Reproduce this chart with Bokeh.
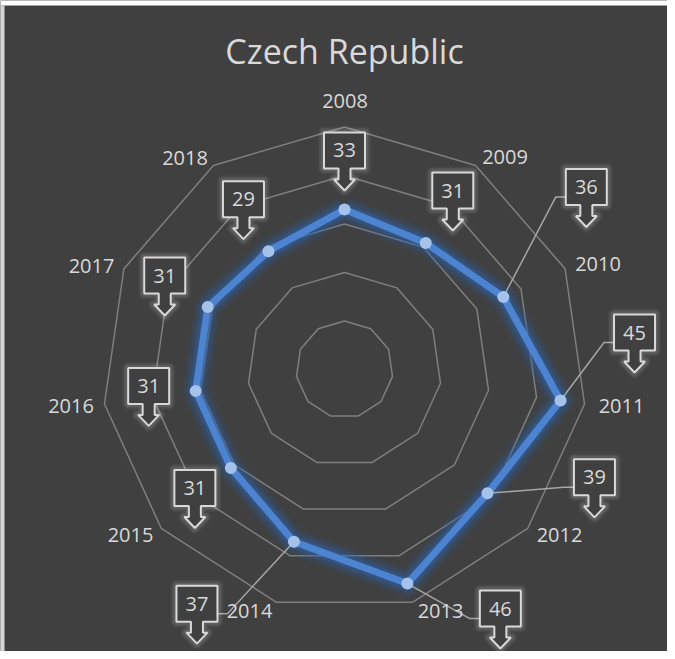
import math
from bokeh.plotting import figure
from bokeh.models import Range1d, ColumnDataSource
from bokeh.core.properties import value
from bokeh.embed import file_html
from bokeh.resources import INLINE

# ---------------- data ----------------
chart_title = "Czech Republic"
years = ["2008", "2009", "2010", "2011", "2012", "2013", "2014", "2015", "2016", "2017", "2018"]
values = [33, 31, 36, 45, 39, 46, 37, 31, 31, 31, 29]
ring_levels = [10, 20, 30, 40, 50]

# ---------------- layout (pixels of the reference picture) ----------------
CX, CY, S = 344.0, 369.0, 4.85          # radar centre and px per value unit
PAGE_L, PAGE_T, W, H = 0, 0, 667, 651
# callout arrow-tip offset from its data point (px, y down)
tip_offsets = [(0, -19), (27, -12.5), (83, -70), (74, -28), (107, 24), (93, 65),
               (-97, 102), (-36, 60), (-47, 35), (-43, 8.5), (-25, -12)]
# leader line side per label: None, "R" (box right of point), "L" (box left of point)
leader_side = [None, None, "R", "R", "R", "R", "L", None, None, None, None]
# category label centres (px)
cat_label_xy = [(344.5, 100.5), (504.5, 156.5), (597.5, 263.5), (621, 405), (559, 534),
                (440, 610), (249, 610), (130, 534), (70.5, 405), (91, 265), (184.5, 157)]

GRID = "#7f7f7f"
TXT = "#d9d9d9"
BG = "#404040"
BLUE = "#4d84d1"
FONT = "Open Sans"


def X(px):
    return (px - CX) / S


def Y(py):
    return (CY - py) / S


n = len(years)
angles = [math.pi / 2 - 2 * math.pi * k / n for k in range(n)]

p = figure(width=W, height=H, output_backend="svg", toolbar_location=None,
           x_range=Range1d(X(PAGE_L), X(PAGE_L + W)),
           y_range=Range1d(Y(PAGE_T + H), Y(PAGE_T)),
           min_border=0, background_fill_color=BG, border_fill_color=BG,
           outline_line_color=None)
p.axis.visible = False
p.grid.visible = False

# page edges visible in the reference (white top strip, light left strip)
p.quad(left=[X(0)], right=[X(W)], top=[Y(0)], bottom=[Y(5)], fill_color="white", line_color=None)
p.quad(left=[X(0)], right=[X(4)], top=[Y(5)], bottom=[Y(H)], fill_color="#d4d4d4", line_color=None)

# rings
ring_xs, ring_ys = [], []
for lv in ring_levels:
    xs = [lv * math.cos(a) for a in angles] + [lv * math.cos(angles[0])]
    ys = [lv * math.sin(a) for a in angles] + [lv * math.sin(angles[0])]
    ring_xs.append(xs)
    ring_ys.append(ys)
p.multi_line(ring_xs, ring_ys, line_color=GRID, line_width=1.5)

# data points
pts_x = [v * math.cos(a) for v, a in zip(values, angles)]
pts_y = [v * math.sin(a) for v, a in zip(values, angles)]
loop_x = pts_x + [pts_x[0]]
loop_y = pts_y + [pts_y[0]]

# glow of the series
for w, al in [(28, 0.08), (23, 0.12), (18, 0.18), (13, 0.3)]:
    p.line(loop_x, loop_y, line_color="#2a62b0", line_width=w, line_alpha=al, line_join="round")

# leader lines
lead_xs, lead_ys = [], []
tips = []
for i in range(n):
    ppx = CX + pts_x[i] * S
    ppy = CY - pts_y[i] * S
    tx, ty = ppx + tip_offsets[i][0], ppy + tip_offsets[i][1]
    tips.append((tx, ty))
    side = leader_side[i]
    if side:
        ly = ty - 30
        if side == "R":
            ex = tx - 20.5
            hx = ex - 10
        else:
            ex = tx + 20.5
            hx = ex + 10
        lead_xs.append([X(ex), X(hx), X(ppx)])
        lead_ys.append([Y(ly), Y(ly), Y(ppy)])
p.multi_line(lead_xs, lead_ys, line_color="#a6a6a6", line_width=1.5)

# series line and markers
p.line(loop_x, loop_y, line_color=BLUE, line_width=7, line_join="round")
p.scatter(pts_x, pts_y, size=12, fill_color="#a4c2ea", line_color=None)

# callouts
shape_xs, shape_ys = [], []
for (tx, ty) in tips:
    L, R, T, B = tx - 20.5, tx + 20.5, ty - 58, ty - 22
    poly = [(L, T), (R, T), (R, B), (tx + 6, B), (tx + 6, ty - 11), (tx + 10.5, ty - 11),
            (tx, ty), (tx - 10.5, ty - 11), (tx - 6, ty - 11), (tx - 6, B), (L, B)]
    shape_xs.append([X(a) for a, b in poly])
    shape_ys.append([Y(b) for a, b in poly])
src = ColumnDataSource(dict(xs=shape_xs, ys=shape_ys))
for w, al in [(12, 0.04), (9, 0.06), (6, 0.08)]:
    p.patches("xs", "ys", source=src, fill_color=None, line_color="white",
              line_alpha=al, line_width=w, line_join="round")
p.patches("xs", "ys", source=src, fill_color=BG, line_color=TXT, line_width=2)

p.text(x=[X(t[0]) for t in tips], y=[Y(t[1] - 40) for t in tips],
       text=[str(v) for v in values], text_font=value(FONT), text_font_size=value("20px"),
       text_color=TXT, text_align="center", text_baseline="middle")

# category labels
p.text(x=[X(a) for a, b in cat_label_xy], y=[Y(b) for a, b in cat_label_xy], text=years,
       text_font=value(FONT), text_font_size=value("20px"), text_color=TXT,
       text_align="center", text_baseline="middle")

# title
p.text(x=[X(344)], y=[Y(50)], text=[chart_title], text_font=value(FONT),
       text_font_size=value("34px"), text_color=TXT, text_align="center",
       text_baseline="middle")

open("out.html", "w").write(file_html(p, INLINE))
